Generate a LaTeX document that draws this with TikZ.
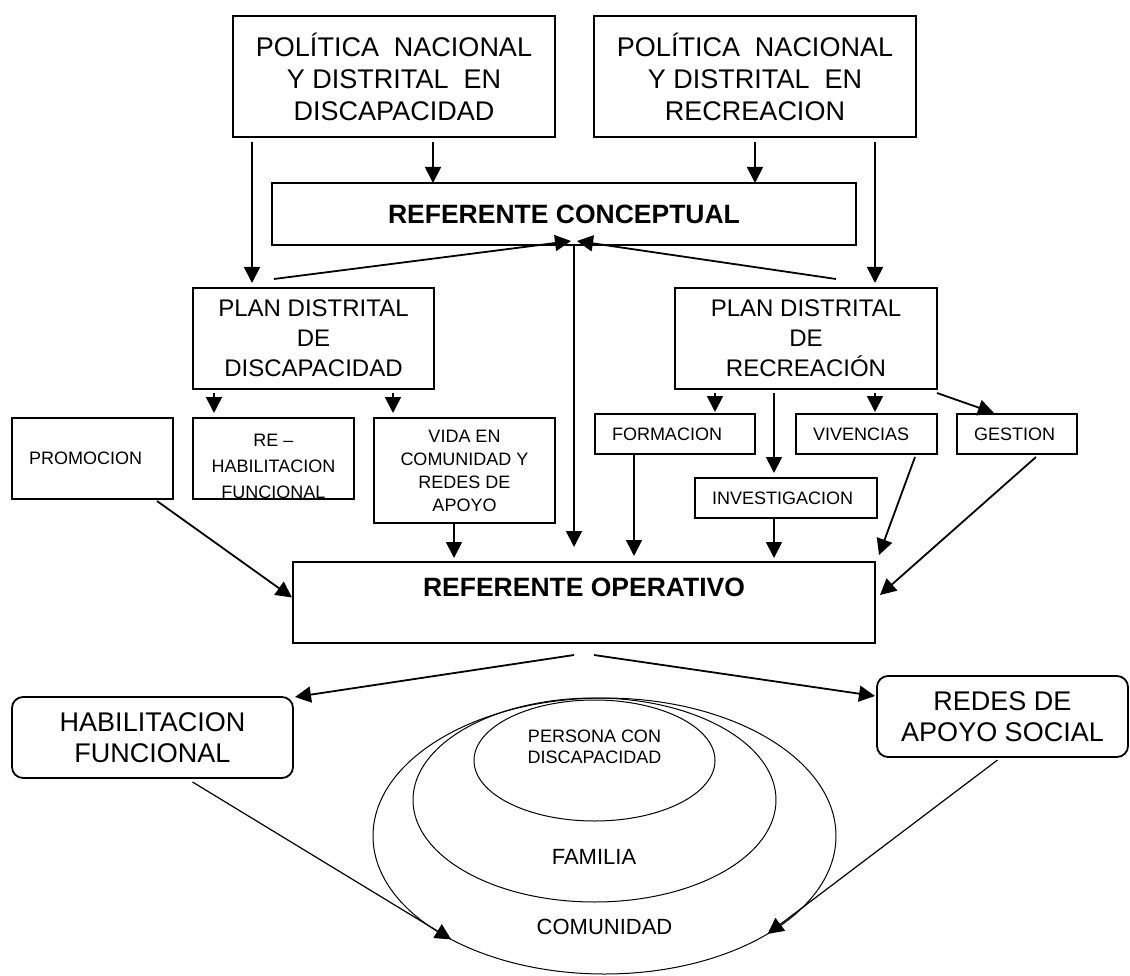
\documentclass[tikz,border=0pt]{standalone}
\usepackage{fontspec}
\setmainfont{Liberation Sans}
\usetikzlibrary{arrows.meta, positioning, shapes.geometric, calc}

\begin{document}
\begin{tikzpicture}[x=1pt, y=-1pt,
  every node/.style={inner sep=0pt, outer sep=0pt},
  polbox/.style={draw, line width=1.8pt, minimum width=322pt, minimum height=121pt,
                 align=center, font=\fontsize{27}{32}\selectfont},
  refbox/.style={draw, line width=1.8pt, align=center,
                 font=\fontsize{26.5}{30}\selectfont\bfseries},
  planbox/.style={draw, line width=1.8pt, minimum height=101pt, align=center,
                  font=\fontsize{24}{30}\selectfont},
  smallbox/.style={draw, line width=1.8pt, align=center,
                   font=\fontsize{18}{23}\selectfont},
  lbox/.style={smallbox, align=left, inner xsep=17pt, minimum height=40pt},
  roundbox/.style={draw, line width=1.8pt, rounded corners=11pt, minimum height=81pt,
                   align=center, font=\fontsize{27}{31}\selectfont},
  ring/.style={draw, ellipse, line width=1pt},
  ringtxt/.style={align=center, font=\fontsize{22}{26}\selectfont},
  arr/.style={-{Triangle[length=16pt, width=16pt]}, line width=1.8pt},
  thinarr/.style={arr, line width=1.2pt},
]
  \useasboundingbox (0,0) rectangle (1130,976);

  \node[polbox] (poldis) at (394,76.5)
    {POLÍTICA\ \ NACIONAL\\Y DISTRITAL\ \ EN\\DISCAPACIDAD};
  \node[polbox] (polrec) at (755,76.5)
    {POLÍTICA\ \ NACIONAL\\Y DISTRITAL\ \ EN\\RECREACION};
  \node[refbox, minimum width=584pt, minimum height=62pt] (concep) at (564,214)
    {REFERENTE CONCEPTUAL};
  \node[planbox, minimum width=241pt] (plandis) at (313.5,338.5)
    {PLAN DISTRITAL\\DE\\DISCAPACIDAD};
  \node[planbox, minimum width=262pt] (planrec) at (806,338.5)
    {PLAN DISTRITAL\\DE\\RECREACIÓN};

  \node[lbox, text width=127pt, minimum height=81pt] (promo) at (92.5,458.5) {PROMOCION};
  \node[smallbox, minimum width=161pt, minimum height=81pt] (rehab) at (273.5,458.5) {};
  \node[smallbox, draw=none, font=\fontsize{18}{26}\selectfont] (rehabtxt) at (273.5,466)
    {RE –\\HABILITACION\\FUNCIONAL};
  \node[smallbox, minimum width=181pt, minimum height=105pt] (vida) at (464.5,470.5)
    {VIDA EN\\COMUNIDAD Y\\REDES DE\\APOYO};
  \node[lbox, text width=126pt] (forma) at (675,434) {FORMACION};
  \node[lbox, text width=107pt] (viven) at (866.5,434) {VIVENCIAS};
  \node[lbox, text width=86pt] (gest) at (1017,434) {GESTION};
  \node[lbox, text width=148pt] (invest) at (786,498) {INVESTIGACION};

  \node[refbox, minimum width=582pt, minimum height=81pt] (oper) at (584,602.5)
    {REFERENTE OPERATIVO\\\mbox{}};

  \node[roundbox, minimum width=281pt] (habil) at (152.5,737.5) {HABILITACION\\FUNCIONAL};
  \node[roundbox, minimum width=251pt] (redes) at (1002.5,716.5) {REDES DE\\APOYO SOCIAL};

  \node[ring, minimum width=463pt, minimum height=276pt] (comun) at (604.5,836) {};
  \node[ring, minimum width=363pt, minimum height=204pt] (famil) at (594.5,800) {};
  \node[ring, minimum width=241pt, minimum height=121pt] (pers) at (594.5,760.5) {};
  \node[ringtxt, font=\fontsize{18}{21}\selectfont] (perstxt) at (594.5,746.5)
    {PERSONA CON\\DISCAPACIDAD};
  \node[ringtxt] (familtxt) at (594,857) {FAMILIA};
  \node[ringtxt] (comuntxt) at (604.5,927) {COMUNIDAD};

  \draw[arr] ($(poldis.south west)+(19,5)$) -- ($(plandis.north west)+(59,-5)$);
  \draw[arr] ($(poldis.south)+(39,5)$) -- ($(concep.north west)+(161,0)$);
  \draw[arr] ($(polrec.south)+(0,5)$) -- (polrec.south |- concep.north);
  \draw[arr] ($(polrec.south east)+(-41,5)$) -- ($(planrec.north east)+(-62,-5)$);

  \draw[arr] ($(plandis.north west)+(81,-9)$) -- ($(concep.south)+(7,-4)$);
  \draw[arr] ($(planrec.north)+(30,-9)$) -- ($(concep.south)+(13,-4)$);
  \draw[arr] ($(concep.south)+(10,0)$) -- ($(oper.north)+(-10,-15)$);

  \draw[arr] ($(plandis.south west)+(21,4)$) -- ($(rehab.north west)+(21,-5)$);
  \draw[arr] ($(plandis.south east)+(-41,4)$) -- ($(vida.north west)+(19,-5)$);
  \draw[arr] ($(planrec.south west)+(40,4)$) -- ($(forma.north west)+(120,-2)$);
  \draw[arr] ($(planrec.south west)+(99,4)$) -- ($(invest.north west)+(79,-5)$);
  \draw[arr] ($(planrec.south east)+(-62,4)$) -- ($(viven.north west)+(79,-2)$);
  \draw[arr] ($(planrec.south east)+(0,4)$) -- ($(gest.north west)+(37,-1)$);

  \draw[arr] ($(promo.south east)+(-16,2)$) -- ($(oper.west)+(-1,-5)$);
  \draw[arr] ($(vida.south)+(-10.5,0)$) -- ($(oper.north west)+(161,-4)$);
  \draw[arr] ($(forma.south west)+(39,0)$) -- ($(oper.north west)+(341,-6)$);
  \draw[arr] ($(invest.south)+(-12,0)$) -- ($(oper.north west)+(481,-4)$);
  \draw[arr] ($(viven.south east)+(-22,3)$) -- ($(oper.north east)+(4,-7)$);
  \draw[arr] ($(gest.south)+(19,3)$) -- ($(oper.east)+(5,-7.5)$);

  \draw[arr] ($(oper.south)+(-10,12)$) -- ($(habil.north east)+(2,0)$);
  \draw[arr] ($(oper.south)+(10,12)$) -- ($(redes.north west)+(-2,20)$);
  \draw[thinarr] ($(habil.south)+(40,4)$) -- (comun.214.5);
  \draw[thinarr] ($(redes.south)+(-5,3)$) -- (comun.329);
\end{tikzpicture}
\end{document}
